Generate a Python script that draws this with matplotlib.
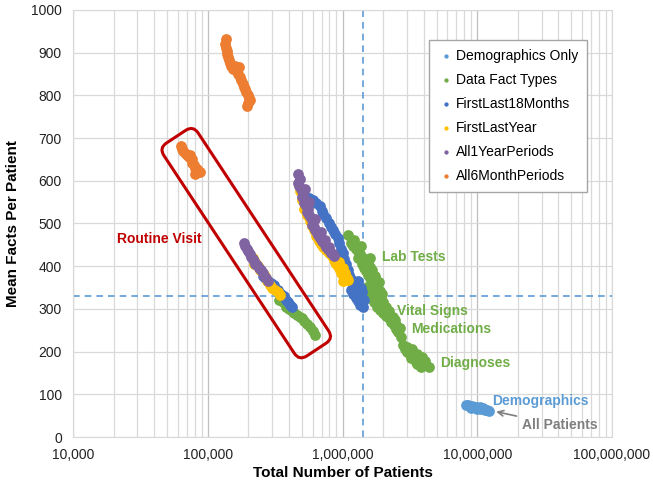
import numpy as np
import matplotlib
matplotlib.use("Agg")
import matplotlib.pyplot as plt
from matplotlib.patches import FancyBboxPatch
from matplotlib.transforms import Affine2D
from matplotlib.ticker import FuncFormatter, LogLocator, MultipleLocator

plt.rcParams['font.family'] = ['Liberation Sans', 'DejaVu Sans']

# ---- data ----
demo_x = [8.3e6, 8.6e6, 8.9e6, 9.2e6, 9.5e6, 9.8e6, 10.1e6, 10.4e6, 10.7e6, 11.0e6,
          11.4e6, 11.8e6, 12.2e6, 9.0e6, 10.0e6]
demo_y = [75, 74, 72, 73, 70, 71, 68, 70, 66, 67, 64, 63, 62, 69, 65]

# Data Fact Types: lab tests, vital signs/medications, diagnoses, routine visit
lab_x = [1.09e6, 1.15e6, 1.2e6, 1.25e6, 1.3e6, 1.35e6, 1.4e6, 1.45e6, 1.5e6, 1.55e6, 1.6e6,
         1.65e6, 1.45e6, 1.5e6, 1.55e6, 1.6e6, 1.65e6, 1.7e6, 1.8e6, 1.9e6, 1.95e6, 1.3e6, 1.4e6,
         1.22e6, 1.38e6, 1.6e6, 1.75e6, 1.85e6, 1.52e6]
lab_y = [472, 455, 448, 440, 435, 428, 422, 415, 410, 402, 398, 392, 395, 388, 380, 372,
         365, 358, 350, 342, 335, 420, 405,
         462, 448, 420, 378, 362, 352]
vit_x = [1.6e6, 1.65e6, 1.7e6, 1.75e6, 1.8e6, 1.85e6, 1.9e6, 1.95e6, 2.0e6, 2.05e6, 2.1e6,
         2.15e6, 2.2e6, 2.3e6, 2.4e6, 2.5e6, 2.6e6, 2.7e6, 1.8e6, 2.0e6, 2.2e6, 2.35e6, 2.5e6,
         1.55e6, 1.7e6, 2.1e6, 2.45e6, 2.65e6]
vit_y = [335, 325, 315, 320, 305, 310, 298, 302, 290, 295, 283, 288, 278, 270, 262, 252,
         245, 235, 330, 315, 295, 280, 262,
         345, 340, 305, 275, 255]
diag_x = [2.8e6, 2.9e6, 3.0e6, 3.1e6, 3.2e6, 3.3e6, 3.4e6, 3.5e6, 3.6e6, 3.7e6, 3.8e6,
          3.9e6, 4.0e6, 4.2e6, 4.4e6, 3.0e6, 3.2e6, 3.5e6, 3.8e6, 4.1e6, 3.6e6, 3.3e6]
diag_y = [215, 205, 210, 200, 195, 205, 190, 185, 195, 180, 175, 188, 172, 168, 165, 198,
          185, 175, 165, 178, 170, 200]
dft_rv_x = [340e3, 360e3, 380e3, 400e3, 420e3, 440e3, 460e3, 480e3, 500e3, 520e3, 545e3,
            570e3, 600e3, 620e3]
dft_rv_y = [322, 315, 305, 300, 295, 290, 285, 282, 278, 272, 265, 258, 248, 238]

fl18_x = [560e3, 600e3, 640e3, 680e3, 700e3, 720e3, 760e3, 790e3, 820e3, 850e3, 880e3,
          920e3, 950e3, 980e3, 1.0e6, 1.03e6, 1.06e6, 1.09e6, 1.12e6, 1.15e6, 1.2e6, 1.25e6,
          1.15e6, 1.2e6, 1.25e6, 1.3e6, 1.35e6, 1.4e6, 1.45e6, 1.2e6, 1.28e6, 1.35e6, 1.42e6,
          1.3e6, 1.38e6,
          255e3, 265e3, 280e3, 295e3, 310e3, 330e3, 350e3, 365e3, 380e3, 395e3, 410e3, 420e3]
fl18_y = [560, 555, 548, 540, 530, 522, 512, 500, 492, 485, 475, 465, 455, 440, 430, 418,
          405, 392, 380, 370, 360, 350, 345, 335, 325, 318, 330, 340, 320, 355, 345, 310,
          305, 365, 350,
          378, 372, 365, 360, 355, 345, 335, 330, 320, 315, 310, 305]

fly_x = [480e3, 500e3, 520e3, 545e3, 570e3, 590e3, 610e3, 640e3, 665e3, 690e3, 720e3,
         760e3, 800e3, 840e3, 860e3, 880e3, 900e3, 920e3, 940e3, 960e3, 980e3, 1.0e6,
         1.02e6, 1.05e6, 1.08e6, 1.1e6, 950e3, 1.0e6, 1.05e6, 1.0e6,
         215e3, 225e3, 235e3, 245e3, 255e3, 265e3, 275e3, 288e3, 300e3, 315e3, 330e3,
         345e3, 220e3, 240e3]
fly_y = [575, 555, 535, 520, 505, 495, 485, 470, 460, 452, 445, 438, 430, 425, 415, 410,
         405, 400, 396, 390, 385, 380, 378, 375, 372, 368, 410, 395, 385, 365,
         420, 410, 400, 392, 383, 376, 365, 356, 350, 345, 340, 333, 405, 395]

a1y_x = [470e3, 480e3, 465e3, 475e3, 490e3, 505e3, 500e3, 520e3, 515e3, 535e3, 550e3,
         545e3, 565e3, 580e3, 600e3, 590e3, 615e3, 630e3, 645e3, 660e3, 680e3, 700e3,
         720e3, 740e3, 760e3, 780e3, 800e3, 825e3, 850e3, 870e3,
         530e3, 560e3, 620e3, 690e3, 740e3, 800e3,
         186e3, 190e3, 195e3, 200e3, 205e3, 210e3, 215e3, 220e3, 225e3, 232e3, 240e3,
         248e3, 255e3, 262e3, 270e3, 278e3]
a1y_y = [615, 605, 595, 588, 580, 572, 563, 558, 548, 542, 535, 526, 520, 512, 505, 497,
         492, 485, 478, 472, 466, 460, 456, 450, 446, 441, 437, 432, 428, 424,
         580, 550, 510, 480, 462, 446,
         455, 448, 440, 435, 428, 422, 418, 412, 406, 402, 396, 390, 385, 378, 372, 366]

a6m_x = [137e3, 134e3, 136e3, 138e3, 140e3, 142e3, 144e3, 147e3, 150e3, 155e3, 160e3,
         165e3, 170e3, 168e3, 175e3, 178e3, 182e3, 186e3, 190e3, 193e3, 198e3, 202e3,
         205e3, 200e3, 196e3,
         63e3, 64e3, 66e3, 68e3, 70e3, 72e3, 74e3, 76e3, 77e3, 79e3, 81e3, 83e3, 85e3,
         87e3, 80e3]
a6m_y = [932, 920, 912, 905, 898, 890, 882, 875, 868, 862, 870, 858, 866, 850, 842, 835,
         826, 820, 814, 808, 800, 795, 790, 782, 775,
         682, 675, 670, 664, 660, 655, 661, 650, 642, 637, 630, 627, 622, 620, 617]

dft_x = lab_x + vit_x + diag_x + dft_rv_x
dft_y = lab_y + vit_y + diag_y + dft_rv_y

series = [
    ("Demographics Only", demo_x, demo_y, "#5B9BD5"),
    ("Data Fact Types", dft_x, dft_y, "#70AD47"),
    ("FirstLast18Months", fl18_x, fl18_y, "#4472C4"),
    ("FirstLastYear", fly_x, fly_y, "#FFC000"),
    ("All1YearPeriods", a1y_x, a1y_y, "#8064A2"),
    ("All6MonthPeriods", a6m_x, a6m_y, "#ED7D31"),
]

ref_x = 1.41e6
ref_y = 330

fig = plt.figure(figsize=(6.53, 4.86), dpi=100)
ax = fig.add_axes([73 / 653, 49 / 486, 539 / 653, 427 / 486])

for name, xs, ys, c in series:
    ax.scatter(xs, ys, s=60, color=c, label=name, linewidths=0, zorder=3)

ax.set_xscale('log')
ax.set_xlim(1e4, 1e8)
ax.set_ylim(0, 1000)
ax.yaxis.set_major_locator(MultipleLocator(100))
ax.xaxis.set_major_locator(LogLocator(base=10))
ax.xaxis.set_minor_locator(LogLocator(base=10, subs=np.arange(2, 10)))
ax.xaxis.set_major_formatter(FuncFormatter(lambda v, p: f"{v:,.0f}"))
ax.xaxis.set_minor_formatter(FuncFormatter(lambda v, p: ""))

ax.grid(True, which='major', axis='x', color='#BFBFBF', linewidth=0.9, zorder=0)
ax.grid(True, which='minor', axis='x', color='#D9D9D9', linewidth=0.9, zorder=0)
ax.grid(True, which='major', axis='y', color='#D9D9D9', linewidth=0.9, zorder=0)
ax.set_axisbelow(True)
ax.tick_params(which='both', length=0, labelsize=10, pad=8, colors='#222222')
for sp in ax.spines.values():
    sp.set_color('#D9D9D9')

ax.axvline(ref_x, color='#5B9BD5', linestyle=(0, (4, 3)), linewidth=1.2, zorder=2)
ax.axhline(ref_y, color='#5B9BD5', linestyle=(0, (4, 3)), linewidth=1.2, zorder=2)

ax.set_xlabel("Total Number of Patients", fontsize=11, fontweight='bold', labelpad=3)
ax.set_ylabel("Mean Facts Per Patient", fontsize=11, fontweight='bold', labelpad=8)

# cluster labels
green = '#70AD47'
ax.text(1.98e6, 422, "Lab Tests", color=green, fontsize=10, fontweight='bold', va='center')
ax.text(2.55e6, 295, "Vital Signs", color=green, fontsize=10, fontweight='bold', va='center')
ax.text(3.23e6, 252, "Medications", color=green, fontsize=10, fontweight='bold', va='center')
ax.text(5.28e6, 174, "Diagnoses", color=green, fontsize=10, fontweight='bold', va='center')
ax.text(12.9e6, 85, "Demographics", color='#5B9BD5', fontsize=10, fontweight='bold', va='center')
ax.annotate("All Patients", xy=(13.5e6, 60), xytext=(21.5e6, 27),
            color='#7F7F7F', fontsize=10, fontweight='bold', va='center',
            arrowprops=dict(arrowstyle='->', color='#7F7F7F', lw=1.2, shrinkA=2, shrinkB=1))
ax.text(21.2e3, 464, "Routine Visit", color='#C00000', fontsize=10, fontweight='bold', va='center')

# rotated rounded box around routine-visit points
fig.canvas.draw()
cx, cy = ax.transData.transform((193e3, 454))
box_len, box_w, ang = 255, 41, -56.6
box = FancyBboxPatch((-box_len / 2, -box_w / 2), box_len, box_w,
                     boxstyle="round,pad=0,rounding_size=9",
                     facecolor='none', edgecolor='#C00000', linewidth=2.2,
                     transform=Affine2D().rotate_deg(ang).translate(cx, cy), zorder=4)
fig.patches.append(box)

leg = ax.legend(loc='upper left', bbox_to_anchor=(0.66, 0.93), fontsize=10,
                frameon=True, fancybox=False, edgecolor='#A6A6A6', framealpha=1,
                markerscale=0.4, handletextpad=0.1, labelspacing=0.72,
                borderpad=0.65, handlelength=1.2, borderaxespad=0)
leg.get_frame().set_linewidth(1.0)
leg.set_zorder(5)

fig.savefig("out.png", dpi=100)
